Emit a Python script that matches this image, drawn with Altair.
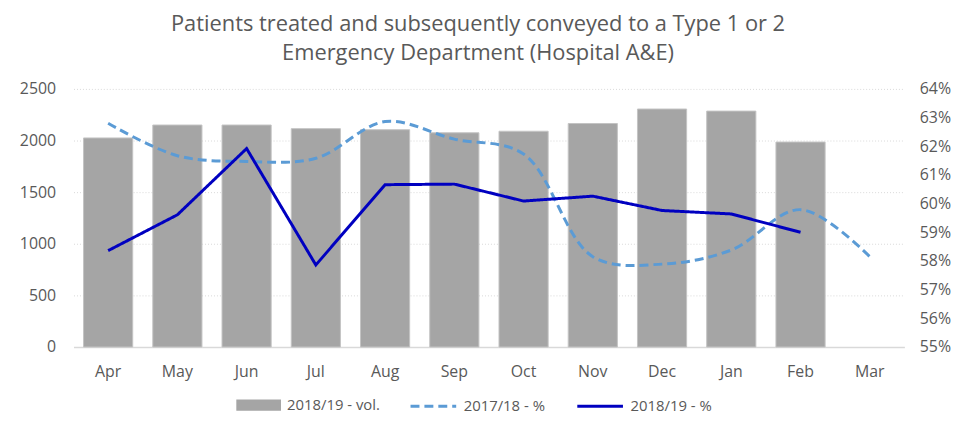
import altair as alt
import pandas as pd

months = ["Apr", "May", "Jun", "Jul", "Aug", "Sep", "Oct", "Nov", "Dec", "Jan", "Feb", "Mar"]
vol_1819 = [2025, 2150, 2150, 2115, 2105, 2075, 2090, 2165, 2305, 2285, 1985, None]
pct_1718 = [62.80, 61.67, 61.47, 61.58, 62.86, 62.25, 61.73, 58.15, 57.89, 58.38, 59.79, 58.15]
pct_1819 = [58.36, 59.61, 61.92, 57.86, 60.66, 60.68, 60.09, 60.26, 59.76, 59.64, 59.00, None]

bar_name = "2018/19 - vol."
line_names = ["2017/18 - %", "2018/19 - %"]
left_ticks = [0, 500, 1000, 1500, 2000, 2500]
right_ticks = [55, 56, 57, 58, 59, 60, 61, 62, 63, 64]

FONT = "Open Sans"
TXT = "#595959"

df_bar = pd.DataFrame({"month": months, "vol": vol_1819, "vseries": bar_name}).dropna()
df_1718 = pd.DataFrame({"month": months, "pct": pct_1718, "series": line_names[0]}).dropna()
df_1819 = pd.DataFrame({"month": months, "pct": pct_1819, "series": line_names[1]}).dropna()

x_enc = alt.X(
    "month:N",
    sort=months,
    title=None,
    scale=alt.Scale(domain=months, paddingInner=0.29, paddingOuter=0.145),
    axis=alt.Axis(labelAngle=0, labelFont=FONT, labelFontSize=16, labelColor=TXT,
                  ticks=False, domainColor="#d9d9d9", domainWidth=1.5, labelPadding=17,
                  grid=False),
)

bars = alt.Chart(df_bar).mark_bar(stroke="#c4c4c4", strokeWidth=1).encode(
    x=x_enc,
    y=alt.Y("vol:Q", title=None,
            scale=alt.Scale(domain=[0, 2500], nice=False),
            axis=alt.Axis(values=left_ticks, format="d", labelFont=FONT, labelFontSize=16,
                          labelColor=TXT, ticks=False, domain=False, grid=True,
                          gridColor="#d9d9d9", gridDash=[1, 2], gridWidth=1, labelPadding=18)),
    fill=alt.Fill("vseries:N", title=None,
                  scale=alt.Scale(domain=[bar_name], range=["#a5a5a5"]),
                  legend=alt.Legend(orient="none", legendX=164, legendY=296, padding=0,
                                    symbolType="M-1,-0.25H1V0.25H-1Z", symbolSize=2025,
                                    symbolStrokeWidth=0, labelFont=FONT, labelFontSize=15,
                                    labelColor=TXT, labelOffset=6)),
)

stroke_scale = alt.Scale(domain=line_names, range=["#5b9bd5", "#0000c0"])
dash_scale = alt.Scale(domain=line_names, range=[[9, 5], [1, 0]])
y_pct = alt.Y("pct:Q", title=None,
              scale=alt.Scale(domain=[55, 64], nice=False, zero=False),
              axis=alt.Axis(orient="right", values=right_ticks, labelExpr="datum.value + '%'",
                            labelFont=FONT, labelFontSize=16, labelColor=TXT, ticks=False,
                            domain=False, grid=False, labelPadding=15))
line_legend = alt.Legend(orient="none", legendX=338, legendY=295, padding=0, direction="horizontal",
                         symbolType="stroke", symbolSize=2116, symbolStrokeWidth=3,
                         labelFont=FONT, labelFontSize=15, labelColor=TXT, labelOffset=6,
                         columnPadding=26)

line1718 = alt.Chart(df_1718).mark_line(strokeWidth=3, interpolate="catmull-rom").encode(
    x=alt.X("month:N", sort=months),
    y=y_pct,
    stroke=alt.Stroke("series:N", title=None, scale=stroke_scale, legend=line_legend),
    strokeDash=alt.StrokeDash("series:N", title=None, scale=dash_scale, legend=line_legend),
)
line1819 = alt.Chart(df_1819).mark_line(strokeWidth=3).encode(
    x=alt.X("month:N", sort=months),
    y=y_pct,
    stroke=alt.Stroke("series:N", title=None, scale=stroke_scale, legend=line_legend),
    strokeDash=alt.StrokeDash("series:N", title=None, scale=dash_scale, legend=line_legend),
)

lines = alt.layer(line1718, line1819)

chart = alt.layer(bars, lines).resolve_scale(y="independent").properties(
    width=837,
    height=260,
    autosize=alt.AutoSizeParams(type="none"),
    padding={"left": 66, "top": 80, "right": 52, "bottom": 68},
    title=alt.TitleParams(
        text=["Patients treated and subsequently conveyed to a Type 1 or 2",
              "Emergency Department (Hospital A&E)"],
        font=FONT, fontSize=22, fontWeight="normal", color=TXT, anchor="middle",
        frame="group", dx=-11, lineHeight=29, offset=16,
    ),
).configure_view(stroke=None)

chart.save("out.html", embed_options={"renderer": "svg", "actions": False})
